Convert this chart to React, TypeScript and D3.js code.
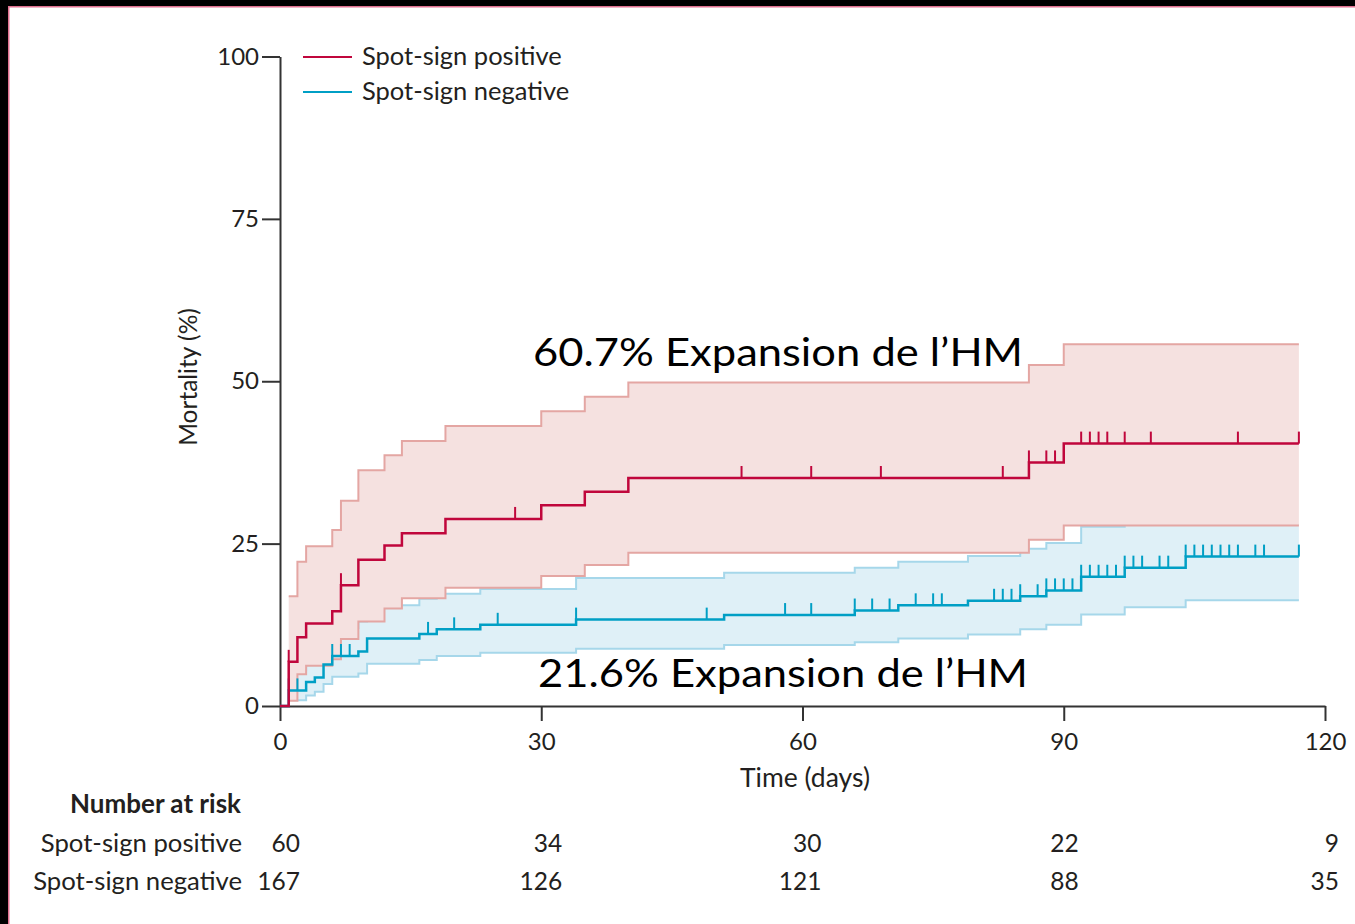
import React, { useEffect, useRef } from 'react';
import * as d3 from 'd3';

// Kaplan-Meier steps (time in days, mortality in %)
const endTime = 117;

const redTimes = [0, 1, 2, 3, 6, 7, 9, 12, 14, 19, 30, 35, 40, 86, 90];
const redMort = [0, 6.8, 10.6, 12.7, 14.6, 18.6, 22.5, 24.7, 26.6, 28.8, 30.9, 33.0, 35.1, 37.5, 40.4];
const redCiTimes = [1, 2, 3, 6, 7, 9, 12, 14, 19, 30, 35, 40, 86, 90];
const redUpper = [16.9, 22.2, 24.6, 27.1, 31.6, 36.3, 38.6, 40.8, 43.1, 45.4, 47.6, 49.8, 52.5, 55.7];
const redLower = [0.8, 4.9, 6.2, 7.2, 10.3, 13.0, 15.0, 16.6, 18.2, 20.0, 21.7, 23.6, 25.6, 27.8];
const redCensor = [1, 7, 27, 53, 61, 69, 83, 86, 88, 89, 92, 93, 94, 95, 97, 100, 110, 117];

const blueTimes = [0, 1, 3, 4, 5, 6, 9, 10, 16, 18, 23, 34, 51, 66, 71, 79, 85, 88, 92, 97, 104];
const blueMort = [0, 2.4, 3.7, 4.4, 6.4, 7.7, 8.4, 10.4, 11.1, 11.8, 12.5, 13.3, 14.0, 14.7, 15.5, 16.2, 16.9, 17.8, 19.9, 21.3, 23.0];
const blueCiTimes = [1, 3, 4, 5, 6, 9, 10, 16, 18, 23, 34, 51, 66, 71, 79, 85, 88, 92, 97, 104];
const blueUpper = [5.5, 7.0, 8.0, 10.5, 12.0, 13.0, 15.5, 16.5, 17.3, 18.0, 19.7, 20.5, 21.3, 22.2, 23.1, 24.2, 25.1, 27.6, 27.9, 27.9];
const blueLower = [0.9, 1.6, 2.2, 3.4, 4.5, 5.0, 6.5, 7.1, 7.7, 8.2, 8.8, 9.4, 9.8, 10.4, 11.0, 11.8, 12.5, 14.1, 15.2, 16.3];
const blueCensor = [1, 2, 6, 7, 8, 17, 20, 25, 34, 49, 58, 61, 66, 68, 70, 73, 75, 76, 82, 83, 84, 85, 87, 88, 89, 90, 91,
  92, 93, 94, 95, 96, 97, 98, 99, 101, 102, 104, 105, 106, 107, 108, 109, 110, 112, 113, 117];

const xTicks = [0, 30, 60, 90, 120];
const yTicks = [0, 25, 50, 75, 100];
const riskTimes = [0, 30, 60, 90, 120];
const riskPositive = [60, 34, 30, 22, 9];
const riskNegative = [167, 126, 121, 88, 35];

const groups = [
  { name: 'Spot-sign positive', times: redTimes, mort: redMort, ciTimes: redCiTimes, upper: redUpper, lower: redLower,
    censor: redCensor, color: '#c0063c', ciLine: '#e4a6a3', fill: '#f5e1e0' },
  { name: 'Spot-sign negative', times: blueTimes, mort: blueMort, ciTimes: blueCiTimes, upper: blueUpper, lower: blueLower,
    censor: blueCensor, color: '#009fc5', ciLine: '#a6d7ea', fill: '#dff0f7' }
];

const FONT = 'Lato, sans-serif';
const TXT = '#231f20';

export default function App() {
  const ref = useRef<SVGSVGElement>(null);

  useEffect(() => {
    const W = 1355, H = 924;
    const svg = d3.select(ref.current);
    svg.selectAll('*').remove();

    svg.append('rect').attr('width', W).attr('height', H).attr('fill', '#fff');
    // frame
    svg.append('rect').attr('x', 0).attr('y', 0).attr('width', W).attr('height', 6).attr('fill', '#000');
    svg.append('rect').attr('x', 0).attr('y', 0).attr('width', 8).attr('height', H).attr('fill', '#000');
    svg.append('rect').attr('x', 8).attr('y', 6).attr('width', W - 8).attr('height', 1.5).attr('fill', '#e0708f');
    svg.append('rect').attr('x', 8).attr('y', 6).attr('width', 1.5).attr('height', H - 6).attr('fill', '#e0708f');

    var x = d3.scaleLinear().domain([0, 120]).range([280, 1325]);
    var y = d3.scaleLinear().domain([0, 100]).range([706, 56.5]);

    const stepPts = (times: number[], vals: number[]) =>
      times.map((t, i) => [t, vals[i]]).concat([[endTime, vals[vals.length - 1]]]);

    const line = d3.line<number[]>().curve(d3.curveStepAfter).x(d => x(d[0])).y(d => y(d[1]));
    const area = d3.area<number[]>().curve(d3.curveStepAfter)
      .x(d => x(d[0])).y0(d => y(d[1])).y1(d => y(d[2]));

    // confidence bands: blue first, red on top
    [groups[1], groups[0]].forEach(g => {
      const band = g.ciTimes.map((t, i) => [t, g.lower[i], g.upper[i]])
        .concat([[endTime, g.lower[g.lower.length - 1], g.upper[g.upper.length - 1]]]);
      svg.append('path').attr('d', area(band)).attr('fill', g.fill);
      [g.upper, g.lower].forEach(vals => {
        svg.append('path').attr('d', line(stepPts(g.ciTimes, vals)))
          .attr('fill', 'none').attr('stroke', g.ciLine).attr('stroke-width', 2);
      });
    });

    // axes
    const yAxis = svg.append('g').attr('transform', 'translate(280,0)')
      .call(d3.axisLeft(y).tickValues(yTicks).tickSize(18).tickSizeOuter(0).tickPadding(3));
    const xAxis = svg.append('g').attr('transform', 'translate(0,706)')
      .call(d3.axisBottom(x).tickValues(xTicks).tickSize(15).tickSizeOuter(0).tickPadding(12));
    [yAxis, xAxis].forEach(a => {
      a.selectAll('path, line').attr('stroke', '#333').attr('stroke-width', 2);
      a.selectAll('text').attr('font-family', FONT).attr('font-size', 24).attr('fill', TXT);
    });

    // survival curves
    [groups[1], groups[0]].forEach(g => {
      svg.append('path').attr('d', line(stepPts(g.times, g.mort)))
        .attr('fill', 'none').attr('stroke', g.color).attr('stroke-width', 2.5);
      svg.append('g').selectAll('line').data(g.censor).enter().append('line')
        .attr('x1', d => x(d)).attr('x2', d => x(d))
        .attr('y1', d => y(g.mort[d3.bisectRight(g.times, d) - 1]))
        .attr('y2', d => y(g.mort[d3.bisectRight(g.times, d) - 1]) - 12)
        .attr('stroke', g.color).attr('stroke-width', 2);
    });

    // legend
    groups.forEach((g, i) => {
      const ly = 57 + i * 35;
      svg.append('line').attr('x1', 303).attr('x2', 352).attr('y1', ly).attr('y2', ly)
        .attr('stroke', g.color).attr('stroke-width', 2);
      svg.append('text').attr('x', 362).attr('y', ly + 8).text(g.name)
        .attr('font-family', FONT).attr('font-size', 25.5).attr('fill', TXT);
    });

    // axis titles
    svg.append('text').attr('transform', 'translate(197,377) rotate(-90)').attr('text-anchor', 'middle')
      .text('Mortality (%)').attr('font-family', FONT).attr('font-size', 24.5).attr('fill', TXT);
    svg.append('text').attr('x', 805).attr('y', 787).attr('text-anchor', 'middle')
      .text('Time (days)').attr('font-family', FONT).attr('font-size', 26.5).attr('fill', TXT);

    // annotations
    [['60.7% Expansion de l\u2019HM', 533, 366], ['21.6% Expansion de l\u2019HM', 538, 687]].forEach(([t, ax, ay]) => {
      svg.append('text').attr('x', ax).attr('y', ay).text(t as string)
        .attr('textLength', 490).attr('lengthAdjust', 'spacingAndGlyphs')
        .attr('font-family', FONT).attr('font-size', 39).attr('fill', '#000');
    });

    // number at risk
    svg.append('text').attr('x', 241).attr('y', 813).attr('text-anchor', 'end').text('Number at risk')
      .attr('font-family', FONT).attr('font-size', 26).attr('font-weight', 'bold').attr('fill', TXT);
    const colShift = [20, 21, 19, 15, 14];
    [riskPositive, riskNegative].forEach((row, i) => {
      const by = 852 + i * 38;
      svg.append('text').attr('x', 242).attr('y', by).attr('text-anchor', 'end').text(groups[i].name)
        .attr('font-family', FONT).attr('font-size', 25.7).attr('fill', TXT);
      svg.append('g').selectAll('text').data(row).enter().append('text')
        .attr('x', (d, j) => x(riskTimes[j]) + colShift[j]).attr('y', by)
        .attr('text-anchor', 'end').text(d => d)
        .attr('font-family', FONT).attr('font-size', 24.5).attr('fill', TXT);
    });
  }, []);

  return (
    <svg ref={ref} width={1355} height={924} style={{ position: 'absolute', left: 0, top: 0 }} />
  );
}
